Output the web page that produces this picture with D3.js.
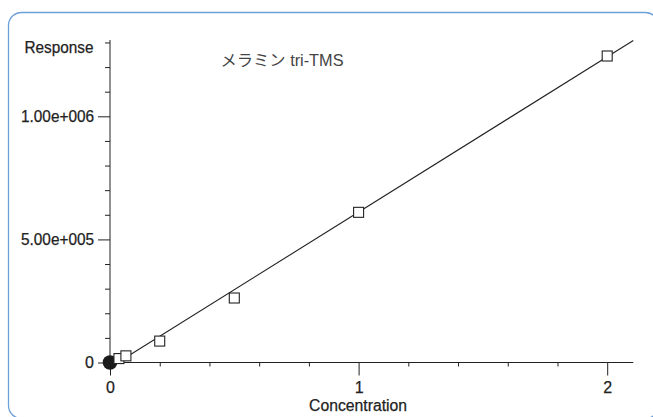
<!DOCTYPE html>
<html>
<head>
<meta charset="utf-8">
<script src="https://cdn.jsdelivr.net/npm/d3@7"></script>
<style>
  html, body { margin: 0; padding: 0; background: #fff; }
  svg { display: block; }
  text { font-family: "Liberation Sans", Arial, sans-serif; fill: #222; }
</style>
</head>
<body>
<svg id="chart" width="653" height="417"></svg>
<script>
// Calibration standards (concentration vs. response)
const concentrations = [0.036, 0.064, 0.2, 0.5, 1, 2];
const responses = [16000, 27000, 87000, 262000, 610000, 1245000];
// Origin point, shown as a filled circle
const originPoint = [0, 0];
// Linear fit: response = slope * concentration + intercept
const fitSlope = 630600;
const fitIntercept = -19500;
const fitRange = [0.036, 2.105];

const xMajorTicks = [0, 1, 2];
const xMinorTicks = [0.2, 0.4, 0.6, 0.8, 1.2, 1.4, 1.6, 1.8];
const yMajorTicks = [0, 500000, 1000000];
const yMajorLabels = ["0", "5.00e+005", "1.00e+006"];
const yMinorTicks = [100000, 200000, 300000, 400000, 600000, 700000, 800000, 900000, 1100000, 1200000, 1300000];

const title = "メラミン tri-TMS";
const xTitle = "Concentration";
const yTitle = "Response";

const svg = d3.select("#chart");

// Rounded panel frame (runs past the right and bottom edges)
svg.append("rect")
  .attr("x", 8.5).attr("y", 12.5)
  .attr("width", 650).attr("height", 406)
  .attr("rx", 13).attr("ry", 13)
  .attr("fill", "none")
  .attr("stroke", "#6ba0d8")
  .attr("stroke-width", 1.3);

const x = d3.scaleLinear().domain([0, 2.105]).range([110, 633.3]);
const y = d3.scaleLinear().domain([0, 1310000]).range([362.5, 40]);

const ink = "#222";
const labelSize = 16;

// Condensed look: squeeze glyphs of a text to a set width
function fitWidth(sel, w) {
  sel.attr("textLength", w).attr("lengthAdjust", "spacingAndGlyphs");
}

// X axis: major ticks long, minor ticks short, both pointing down
const xAxisG = svg.append("g").attr("transform", `translate(0,${y(0)})`);
xAxisG.call(d3.axisBottom(x).tickValues(xMajorTicks).tickSize(13).tickPadding(7).tickFormat(d3.format("d")));
xAxisG.append("g").call(d3.axisBottom(x).tickValues(xMinorTicks).tickSize(4).tickFormat(""))
  .select(".domain").remove();
xAxisG.selectAll(".domain").attr("d", `M${x(0)},0H${x(2.105)}`);

// Y axis: ticks pointing left
const yAxisG = svg.append("g").attr("transform", `translate(${x(0)},0)`);
yAxisG.call(d3.axisLeft(y).tickValues(yMajorTicks).tickSize(12).tickPadding(4)
  .tickFormat((d, i) => yMajorLabels[i]));
yAxisG.append("g").call(d3.axisLeft(y).tickValues(yMinorTicks).tickSize(5).tickFormat(""))
  .select(".domain").remove();
yAxisG.selectAll(".domain").attr("d", `M0,${y(0)}V40`);

svg.selectAll(".domain, .tick line").attr("stroke", ink).attr("stroke-width", 1);
svg.selectAll(".tick text")
  .attr("font-family", "'Liberation Sans', Arial, sans-serif")
  .attr("font-size", labelSize)
  .attr("fill", ink)
  .attr("stroke", ink).attr("stroke-width", 0.25);
yAxisG.selectAll(".tick text").filter(d => d > 0).call(fitWidth, 73);
xAxisG.selectAll(".tick text").attr("dy", "0.68em");

// Axis titles
svg.append("text")
  .attr("x", 93.5).attr("y", 52.5)
  .attr("text-anchor", "end")
  .attr("font-size", labelSize)
  .attr("stroke", ink).attr("stroke-width", 0.25)
  .call(fitWidth, 69)
  .text(yTitle);

svg.append("text")
  .attr("x", x(1) - 0.5).attr("y", 410.5)
  .attr("text-anchor", "middle")
  .attr("font-size", labelSize)
  .attr("stroke", ink).attr("stroke-width", 0.25)
  .call(fitWidth, 98)
  .text(xTitle);

// Compound name
svg.append("text")
  .attr("x", 220.5).attr("y", 66)
  .attr("font-size", 16)
  .style("font-family", "'Liberation Sans', 'Noto Sans CJK JP', sans-serif")
  .style("fill", "#444")
  .call(fitWidth, 123)
  .text(title);

// Fitted calibration line
const fitLine = d3.line()
  .x(d => x(d))
  .y(d => y(fitSlope * d + fitIntercept));
svg.append("path")
  .datum(fitRange)
  .attr("d", fitLine)
  .attr("fill", "none")
  .attr("stroke", ink)
  .attr("stroke-width", 1.1);

// Origin marker
svg.append("circle")
  .attr("cx", x(originPoint[0])).attr("cy", y(originPoint[1]))
  .attr("r", 7.3)
  .attr("fill", "#1a1a1a");

// Standards as open squares
const side = 10;
svg.append("g").selectAll("rect")
  .data(concentrations.map((c, i) => [c, responses[i]]))
  .join("rect")
  .attr("x", d => x(d[0]) - side / 2)
  .attr("y", d => y(d[1]) - side / 2)
  .attr("width", side).attr("height", side)
  .attr("fill", "#fff")
  .attr("stroke", ink)
  .attr("stroke-width", 1.1);
</script>
</body>
</html>
